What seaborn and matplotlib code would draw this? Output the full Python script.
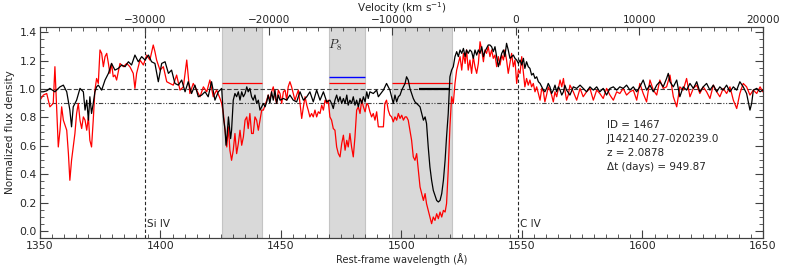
import pandas as pd
import seaborn as sns
import matplotlib.pyplot as plt
from matplotlib.ticker import MultipleLocator

# spectrum at the later epoch (black) - rest-frame wavelength (A) and normalized flux
wave_black = [
    1350.0, 1351.4, 1352.8, 1354.1, 1356.2, 1358.3, 1359.7, 1361.1, 1362.4, 1363.1,
    1363.8, 1365.2, 1366.6, 1368.0, 1368.7, 1369.4, 1370.1, 1370.7, 1371.4, 1372.1,
    1372.8, 1373.5, 1374.2, 1375.6, 1377.0, 1378.4, 1379.7, 1381.1, 1382.5, 1383.9,
    1385.3, 1386.7, 1388.0, 1389.4, 1390.8, 1392.2, 1393.6, 1395.0, 1396.3, 1397.7,
    1399.1, 1400.5, 1401.9, 1403.3, 1404.6, 1406.0, 1407.4, 1408.8, 1410.2, 1411.5,
    1412.9, 1414.3, 1415.7, 1417.1, 1418.5, 1419.8, 1421.2, 1422.6, 1424.0, 1425.4,
    1426.1, 1426.8, 1427.2, 1427.7, 1428.2, 1428.6, 1429.1, 1429.5, 1430.2, 1430.9,
    1431.6, 1432.3, 1433.0, 1433.7, 1434.4, 1435.1, 1435.8, 1436.4, 1437.1, 1437.8,
    1438.5, 1439.2, 1439.9, 1440.6, 1441.3, 1442.0, 1442.7, 1443.4, 1444.1, 1444.7,
    1445.4, 1446.1, 1446.8, 1447.5, 1448.2, 1448.9, 1449.6, 1451.0, 1452.4, 1453.7,
    1455.1, 1456.5, 1457.9, 1459.3, 1460.7, 1462.0, 1463.4, 1464.8, 1466.2, 1467.6,
    1469.0, 1470.3, 1471.0, 1471.7, 1472.4, 1473.1, 1473.8, 1474.5, 1475.2, 1475.9,
    1476.6, 1477.3, 1477.9, 1478.6, 1479.3, 1480.0, 1480.7, 1481.4, 1482.1, 1482.8,
    1483.5, 1484.2, 1484.9, 1485.6, 1486.2, 1486.9, 1488.3, 1489.7, 1490.4,
    1492.5, 1493.8, 1495.2, 1495.9, 1496.6, 1497.3, 1498.0, 1498.7, 1499.4, 1500.1,
    1500.8, 1501.5, 1502.1, 1502.8, 1503.5, 1504.2, 1504.9, 1505.6, 1506.3, 1507.0,
    1507.7, 1508.4, 1509.1, 1509.8, 1510.4, 1511.1, 1511.8, 1512.5, 1513.2, 1513.9,
    1514.6, 1515.3, 1516.0, 1516.7, 1517.4, 1518.1, 1518.7, 1519.4, 1520.1, 1520.8,
    1521.5, 1522.2, 1522.9, 1523.6, 1524.3, 1525.0, 1525.7, 1526.4, 1527.0, 1527.7,
    1528.4, 1529.1, 1529.8, 1530.5, 1531.2, 1531.9, 1532.6, 1533.3, 1534.0, 1534.6,
    1535.3, 1536.0, 1536.7, 1537.4, 1538.1, 1538.8, 1539.5, 1540.2, 1540.9, 1541.6,
    1542.3, 1542.9, 1543.6, 1544.3, 1545.0, 1545.7, 1546.4, 1547.1, 1547.8, 1548.5,
    1549.2, 1549.9, 1550.6, 1551.2, 1551.9, 1552.6, 1553.3, 1554.0, 1554.7, 1555.4,
    1556.1, 1556.8, 1557.5, 1558.2, 1558.9, 1559.5, 1560.2, 1560.9, 1561.6, 1562.3,
    1563.0, 1563.7, 1564.4, 1565.1, 1565.8, 1566.5, 1567.2, 1567.8, 1568.5, 1569.9,
    1571.3, 1572.7, 1574.1, 1575.4, 1576.8, 1578.2, 1579.6, 1581.0, 1582.3, 1583.7,
    1585.1, 1586.5, 1587.9, 1589.3, 1590.6, 1592.0, 1593.4, 1594.8, 1596.2, 1597.6,
    1598.9, 1600.3, 1601.7, 1603.1, 1604.5, 1605.9, 1607.2, 1608.6, 1610.0, 1610.7,
    1611.4, 1612.8, 1614.2, 1615.5, 1616.9, 1618.3, 1619.7, 1621.1, 1622.5, 1623.8,
    1625.2, 1626.6, 1628.0, 1629.4, 1630.8, 1632.1, 1633.5, 1634.9, 1636.3, 1637.7,
    1639.1, 1640.4, 1641.8, 1643.2, 1644.6, 1645.3, 1646.0, 1647.4, 1648.8, 1649.9,
]
flux_black = [
    0.981, 0.981, 0.988, 1.005, 0.981, 1.016, 1.028, 0.981, 0.852, 0.734,
    0.875, 0.922, 1.005, 0.981, 0.852, 0.922, 0.781, 0.946, 0.828, 0.899,
    0.981, 1.016, 1.028, 0.993, 1.064, 1.111, 1.181, 1.134, 1.146, 1.170,
    1.158, 1.193, 1.170, 1.240, 1.193, 1.229, 1.205, 1.240, 1.193, 1.181,
    1.052, 1.181, 1.193, 1.111, 1.134, 1.040, 1.028, 1.064, 0.981, 1.052,
    0.969, 1.028, 0.946, 0.958, 0.981, 0.946, 1.052, 0.922, 0.981, 1.005,
    0.804, 0.710, 0.604, 0.687, 0.804, 0.734, 0.651, 0.710, 0.922, 0.969,
    0.946, 0.981, 0.922, 0.981, 0.946, 0.969, 1.016, 0.981, 1.005, 0.946,
    0.922, 0.958, 0.899, 0.922, 0.852, 0.875, 0.899, 0.875, 0.910, 0.958,
    0.899, 0.981, 0.922, 0.993, 0.899, 0.958, 0.922, 0.934, 0.922, 0.958,
    0.922, 0.910, 0.981, 0.922, 0.946, 0.981, 0.910, 0.993, 0.922, 0.981,
    0.910, 0.922, 0.899, 0.863, 0.922, 0.958, 0.910, 0.946, 0.899, 0.934,
    0.899, 0.958, 0.887, 0.922, 0.899, 0.946, 0.887, 0.922, 0.875, 0.934,
    0.899, 0.946, 0.910, 0.981, 0.934, 0.981, 0.969, 0.993, 0.946,
    0.993, 1.040, 0.993, 0.946, 0.899, 0.958, 0.910, 0.946, 0.958, 0.993,
    1.016, 1.040, 1.087, 1.064, 1.005, 0.969, 0.934, 0.910, 0.899, 0.887,
    0.875, 0.828, 0.781, 0.804, 0.757, 0.592, 0.451, 0.357, 0.286, 0.251,
    0.215, 0.204, 0.215, 0.263, 0.357, 0.498, 0.663, 0.828, 1.087, 1.134,
    1.158, 1.229, 1.264, 1.229, 1.276, 1.252, 1.287, 1.229, 1.276, 1.252,
    1.276, 1.264, 1.217, 1.276, 1.240, 1.276, 1.252, 1.299, 1.229, 1.264,
    1.287, 1.311, 1.311, 1.299, 1.264, 1.299, 1.229, 1.158, 1.205, 1.252,
    1.276, 1.229, 1.323, 1.276, 1.217, 1.229, 1.240, 1.217, 1.205, 1.181,
    1.205, 1.170, 1.217, 1.146, 1.193, 1.158, 1.146, 1.099, 1.111, 1.075,
    1.087, 1.052, 1.040, 1.016, 0.993, 0.981, 1.005, 1.040, 1.016, 0.969,
    0.993, 1.028, 0.981, 1.016, 0.993, 0.958, 0.981, 1.028, 0.993, 0.958,
    1.016, 1.005, 1.028, 1.005, 0.981, 1.016, 0.993, 1.016, 0.981, 1.005,
    0.958, 1.005, 1.016, 0.993, 1.016, 1.005, 1.028, 0.993, 1.016, 0.981,
    1.016, 1.064, 0.993, 1.028, 0.981, 1.028, 1.052, 1.016, 1.075, 1.111,
    1.052, 1.016, 1.064, 0.946, 1.016, 0.993, 1.040, 1.005, 1.052, 0.981,
    1.016, 1.040, 0.993, 1.028, 0.981, 1.016, 0.993, 1.028, 0.981, 1.016,
    0.993, 1.052, 1.016, 0.969, 0.852, 0.899, 0.993, 1.005, 0.981, 0.993,
]

# spectrum at the earlier epoch (red)
wave_red = [
    1350.0, 1351.4, 1352.8, 1354.1, 1355.5, 1356.2, 1356.9, 1357.6, 1358.3, 1359.0,
    1359.7, 1361.1, 1361.8, 1362.4, 1363.1, 1363.8, 1364.5, 1365.2, 1365.9, 1366.6,
    1367.3, 1368.0, 1368.7, 1369.4, 1370.1, 1370.7, 1371.4, 1372.1, 1372.8, 1373.5,
    1374.2, 1374.9, 1375.6, 1376.3, 1377.0, 1377.7, 1378.4, 1379.0, 1379.7, 1380.4,
    1381.1, 1381.8, 1383.2, 1384.6, 1386.0, 1387.3, 1388.7, 1389.4, 1390.1, 1391.5,
    1392.9, 1394.3, 1395.6, 1397.0, 1397.7, 1398.4, 1399.8, 1401.2, 1402.6, 1403.9,
    1405.3, 1406.7, 1408.1, 1409.5, 1410.9, 1411.5, 1412.2, 1413.6, 1415.0, 1416.4,
    1417.8, 1419.2, 1420.5, 1421.9, 1423.3, 1424.7,
    1425.4, 1426.1, 1426.8, 1427.5, 1428.2, 1428.8, 1429.5, 1430.2, 1430.9, 1431.6,
    1432.3, 1433.0, 1433.7, 1434.4, 1435.1, 1435.8, 1436.4, 1437.1, 1437.8, 1438.5,
    1439.2, 1439.9, 1440.6, 1441.3, 1442.0, 1442.7, 1443.4, 1444.1, 1444.7, 1445.4,
    1446.1, 1446.8, 1447.5, 1448.2, 1448.9, 1449.6, 1450.3, 1451.0, 1451.7, 1452.4,
    1453.0, 1453.7, 1454.4, 1455.1, 1455.8, 1456.5, 1457.2, 1457.9, 1458.6, 1459.3,
    1460.0, 1460.7, 1461.3, 1462.0, 1462.7, 1463.4, 1464.1, 1464.8, 1465.5, 1466.2,
    1466.9, 1467.6, 1468.3, 1469.0, 1469.6, 1470.3, 1471.0, 1471.7, 1472.4, 1473.1,
    1473.8, 1474.5, 1475.2, 1475.9, 1476.6, 1477.3, 1477.9, 1478.6, 1479.3, 1480.0,
    1480.7, 1481.4, 1482.1, 1482.8, 1483.5, 1484.2, 1484.9, 1485.6, 1486.2, 1486.9,
    1487.6, 1488.3, 1489.0, 1489.7, 1490.4,
    1492.5, 1493.1, 1493.8, 1494.5, 1495.2, 1495.9, 1496.6, 1497.3, 1498.0, 1498.7,
    1499.4, 1500.1, 1500.8, 1501.5, 1502.1, 1502.8, 1503.5, 1504.2, 1504.9, 1505.6,
    1506.3, 1507.0, 1507.7, 1508.4, 1509.1, 1509.8, 1510.4, 1511.1, 1511.8, 1512.5,
    1513.2, 1513.9, 1514.6, 1515.3, 1516.0, 1516.7, 1517.4, 1518.1, 1518.7, 1519.4,
    1520.1, 1520.8, 1521.5, 1522.2, 1522.9, 1523.6, 1524.3, 1525.0, 1525.7, 1526.4,
    1527.0, 1527.7, 1528.4, 1529.1, 1529.8, 1530.5, 1531.2, 1531.9, 1532.6, 1533.3,
    1534.0, 1534.6, 1535.3, 1536.0, 1536.7, 1537.4, 1538.1, 1538.8, 1539.5, 1540.2,
    1540.9, 1541.6, 1542.3, 1542.9, 1543.6, 1544.3, 1545.0, 1545.7, 1546.4, 1547.1,
    1547.8, 1548.5, 1549.2, 1549.9, 1550.6, 1551.2, 1551.9, 1552.6, 1553.3, 1554.0,
    1554.7, 1555.4, 1556.1, 1556.8, 1557.5, 1558.2, 1558.9, 1559.5, 1560.2, 1560.9,
    1561.6, 1562.3, 1563.0, 1563.7, 1564.4, 1565.8, 1566.5, 1567.2, 1567.8, 1568.5,
    1569.2, 1569.9,
    1571.3, 1572.7, 1574.1, 1575.4, 1576.8, 1578.2, 1579.6, 1581.0, 1582.3, 1583.7,
    1585.1, 1586.5, 1587.9, 1589.3, 1590.6, 1592.0, 1593.4, 1594.8, 1596.2, 1597.6,
    1598.9, 1600.3, 1601.7, 1603.1, 1604.5, 1605.9, 1607.2, 1608.6, 1610.0, 1611.4,
    1612.8, 1614.2, 1615.5, 1616.9, 1618.3, 1619.7, 1621.1, 1622.5, 1623.8, 1625.2,
    1626.6, 1628.0, 1629.4, 1630.8, 1632.1, 1633.5, 1634.9, 1636.3, 1637.7, 1639.1,
    1640.4, 1641.8, 1643.2, 1644.6, 1646.0, 1647.4, 1648.8, 1649.9,
]
flux_red = [
    0.922, 0.958, 0.969, 0.875, 0.899, 1.158, 0.875, 0.592, 0.710, 0.875,
    0.781, 0.710, 0.545, 0.357, 0.498, 0.592, 0.687, 0.828, 0.899, 0.781,
    0.722, 0.804, 0.781, 0.710, 0.804, 0.639, 0.592, 0.781, 0.993, 1.075,
    1.040, 1.276, 1.252, 1.158, 1.229, 1.252, 1.181, 1.111, 1.181, 1.087,
    1.099, 1.064, 1.181, 1.158, 1.181, 1.158, 1.111, 1.005, 1.111, 1.205,
    1.170, 1.240, 1.205, 1.311, 1.264, 1.205, 1.134, 1.158, 1.052, 1.040,
    1.028, 1.099, 0.993, 1.016, 1.205, 1.099, 0.969, 1.040, 0.993, 0.946,
    1.016, 0.981, 1.064, 0.946, 0.993, 0.934,
    0.899, 0.828, 0.710, 0.592, 0.734, 0.569, 0.498, 0.569, 0.687, 0.545,
    0.616, 0.710, 0.604, 0.663, 0.781, 0.804, 0.722, 0.828, 0.687, 0.687,
    0.804, 0.781, 0.710, 0.781, 0.852, 0.852, 0.887, 0.922, 0.958, 0.922,
    0.981, 1.016, 0.946, 0.899, 0.993, 0.969, 0.899, 0.981, 0.993, 0.922,
    1.016, 1.052, 1.016, 0.969, 0.922, 0.958, 0.993, 0.899, 0.793, 0.875,
    0.946, 0.887, 0.852, 0.804, 0.828, 0.804, 0.852, 0.804, 0.840, 0.828,
    0.887, 0.852, 0.922, 0.899, 0.922, 0.804, 0.781, 0.722, 0.710, 0.592,
    0.545, 0.522, 0.616, 0.675, 0.569, 0.639, 0.592, 0.687, 0.592, 0.522,
    0.663, 0.852, 0.875, 0.828, 0.922, 0.875, 0.840, 0.899, 0.887, 0.840,
    0.804, 0.828, 0.781, 0.840, 0.734,
    0.734, 0.899, 0.922, 0.852, 0.816, 0.804, 0.769, 0.804, 0.781, 0.828,
    0.793, 0.816, 0.781, 0.804, 0.804, 0.781, 0.710, 0.639, 0.522, 0.498,
    0.545, 0.428, 0.310, 0.263, 0.215, 0.263, 0.192, 0.145, 0.098, 0.051,
    0.098, 0.074, 0.121, 0.086, 0.133, 0.098, 0.145, 0.133, 0.192, 0.428,
    0.734, 0.946, 0.899, 1.040, 1.134, 1.181, 1.229, 1.134, 1.252, 1.181,
    1.276, 1.134, 1.205, 1.111, 1.229, 1.158, 1.111, 1.181, 1.334, 1.276,
    1.193, 1.276, 1.252, 1.299, 1.229, 1.276, 1.217, 1.240, 1.158, 1.229,
    1.170, 1.240, 1.205, 1.276, 1.205, 1.111, 1.181, 1.252, 1.158, 1.205,
    1.040, 1.134, 1.111, 1.229, 1.111, 1.016, 1.075, 1.028, 1.064, 1.016,
    1.040, 0.981, 1.016, 0.969, 0.922, 1.005, 0.981, 0.910, 0.958, 1.016,
    0.993, 0.958, 0.910, 0.981, 0.946, 1.064, 1.016, 1.075, 0.993, 0.922,
    0.958, 1.028,
    0.981, 0.922, 1.005, 0.946, 0.981, 1.005, 0.922, 0.993, 0.969, 0.934,
    1.005, 0.958, 0.922, 0.981, 0.969, 1.005, 0.958, 0.981, 0.993, 0.922,
    1.040, 0.969, 0.910, 1.064, 0.993, 0.958, 1.064, 1.005, 1.016, 1.099,
    0.946, 0.875, 1.016, 0.993, 1.075, 0.946, 1.005, 1.028, 0.969, 1.016,
    0.981, 0.934, 1.028, 0.981, 0.946, 1.005, 0.969, 1.016, 0.922, 0.863,
    0.969, 1.040, 1.016, 0.958, 0.993, 0.969, 1.016, 0.981,
]

# absorption windows (grey) and the marker levels drawn over them
win_lo = [1425.4, 1470.0, 1495.9]
win_hi = [1442.0, 1484.9, 1520.8]
red_level = 1.04
blue_level = 1.083
black_seg = [1507.4, 1520.0]

line_names = ["Si IV", "C IV"]
line_waves = [1393.76, 1548.2]

info = ["ID = 1467", "J142140.27-020239.0", "z = 2.0878", "\u0394t (days) = 949.87"]

sns.set_style("ticks")
plt.rcParams["font.family"] = ["DejaVu Sans"]
plt.rcParams["axes.edgecolor"] = "0.25"
plt.rcParams["axes.linewidth"] = 0.8

fig = plt.figure(figsize=(7.9, 2.65), dpi=100)
ax = fig.add_axes([0.0506, 0.1019, 0.9152, 0.7973])

for lo, hi in zip(win_lo, win_hi):
    ax.axvspan(lo, hi, facecolor="#d9d9d9", edgecolor="#c4c4c4", lw=0.8, zorder=0)
    ax.hlines(red_level, lo, hi, color="red", lw=0.9, zorder=2)
ax.hlines(blue_level, win_lo[1], win_hi[1], color="blue", lw=1.0, zorder=2)
ax.hlines(1.0, black_seg[0], black_seg[1], color="black", lw=1.6, zorder=4)

ax.axhline(1.0, color="0.25", lw=0.8, ls=(0, (4, 2)), zorder=1)
ax.axhline(0.9, color="0.25", lw=0.8, ls=(0, (4, 1.5, 1, 1.5, 1, 1.5)), zorder=1)

df_red = pd.DataFrame({"wave": wave_red, "flux": flux_red})
df_black = pd.DataFrame({"wave": wave_black, "flux": flux_black})
sns.lineplot(data=df_red, x="wave", y="flux", color="red", lw=0.9,
             estimator=None, ax=ax, zorder=3)
sns.lineplot(data=df_black, x="wave", y="flux", color="black", lw=0.9,
             estimator=None, ax=ax, zorder=3)

for name, w in zip(line_names, line_waves):
    ax.axvline(w, color="0.15", lw=0.8, ls=(0, (3, 2)), zorder=1)
    ax.text(w + 0.8, 0.01, name, fontsize=7.5, ha="left", va="bottom")

ax.text(1472.4, 1.31, "$P_8$", fontsize=9, ha="center", va="center",
        math_fontfamily="cm")

for i, s in enumerate(info):
    ax.text(1585.3, 0.746 - i * 0.098, s, fontsize=7.5, ha="left", va="center")

ax.set_xlim(1350, 1650)
ax.set_ylim(-0.05, 1.44)
ax.xaxis.set_major_locator(MultipleLocator(50))
ax.xaxis.set_minor_locator(MultipleLocator(5))
ax.yaxis.set_major_locator(MultipleLocator(0.2))
ax.yaxis.set_minor_locator(MultipleLocator(0.05))
ax.tick_params(which="both", direction="in", top=False, right=True,
               labelsize=7.8, color="0.25")
ax.tick_params(axis="x", pad=2)
ax.tick_params(axis="y", pad=2.5)
ax.tick_params(which="major", length=5.5, width=0.8)
ax.tick_params(which="minor", length=3, width=0.6)
ax.set_xlabel("Rest-frame wavelength (\u00c5)", fontsize=7, labelpad=1.5)
ax.set_ylabel("Normalized flux density", fontsize=7.5, labelpad=3)

ax2 = ax.twiny()
ax2.set_xlim(-38520, 20000)
ax2.xaxis.set_major_locator(MultipleLocator(10000))
ax2.xaxis.set_minor_locator(MultipleLocator(1000))
ax2.tick_params(which="both", direction="in", labelsize=7.6, pad=1.2, color="0.25")
ax2.tick_params(which="major", length=5.5, width=0.8)
ax2.tick_params(which="minor", length=3, width=0.6)
ax2.set_xlabel("Velocity (km s$^{-1}$)", fontsize=7.5)
ax2.xaxis.set_label_coords(0.5, 1.07)

fig.savefig("out.png", dpi=100)
